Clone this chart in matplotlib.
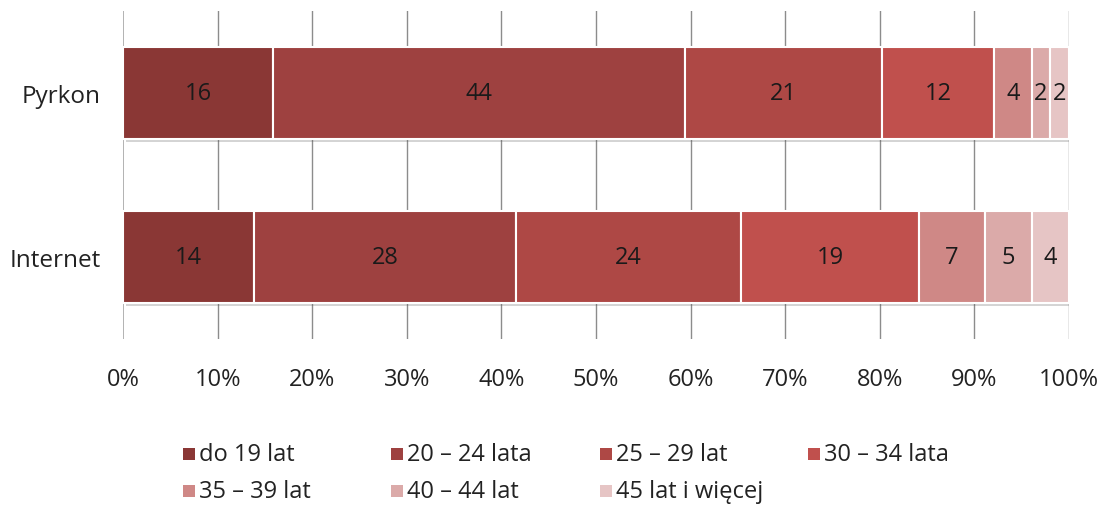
import matplotlib
matplotlib.use("Agg")
import matplotlib.pyplot as plt
import matplotlib.patheffects as pe
from matplotlib.patches import Rectangle
import numpy as np

plt.rcParams['font.family'] = ['Open Sans', 'DejaVu Sans']

categories = ["Internet", "Pyrkon"]
age_groups = ["do 19 lat", "20 – 24 lata", "25 – 29 lat", "30 – 34 lata",
              "35 – 39 lat", "40 – 44 lat", "45 lat i więcej"]
pyrkon = [16, 44, 21, 12, 4, 2, 2]
internet = [14, 28, 24, 19, 7, 5, 4]
colors = ["#8A3735", "#9E4140", "#AE4845", "#C0504D", "#CF8886", "#DBAAA9", "#E6C5C5"]
xticks = [0, 10, 20, 30, 40, 50, 60, 70, 80, 90, 100]

values = np.array([internet, pyrkon], dtype=float)
pct = values / values.sum(axis=1, keepdims=True) * 100

fig = plt.figure(figsize=(11, 5.06), dpi=100)
ax = fig.add_axes([0.1118, 0.328, 0.86, 0.648])

y = np.arange(len(categories))
left = np.zeros(len(categories))
shadow = [pe.SimplePatchShadow(offset=(2, -2), alpha=0.25, shadow_rgbFace='#555555'), pe.Normal()]
for j, lab in enumerate(age_groups):
    bars = ax.barh(y, pct[:, j], left=left, height=0.56, color=colors[j],
                   edgecolor='white', linewidth=1.5, zorder=3)
    for b in bars:
        b.set_path_effects(shadow)
    for i in range(len(categories)):
        ax.text(left[i] + pct[i, j] / 2, y[i], f"{int(values[i, j])}",
                ha='center', va='center', fontsize=17, color='#1a1a1a', zorder=5)
    left += pct[:, j]

ax.set_xlim(0, 100)
ax.set_ylim(-0.5, 1.5)
ax.set_xticks(xticks)
ax.set_xticklabels([f"{t}%" for t in xticks], fontsize=17, color='#222222')
ax.set_yticks(y)
ax.set_yticklabels(categories, fontsize=17.5, color='#222222')
ax.tick_params(axis='x', length=0, pad=20)
ax.tick_params(axis='y', length=0, pad=16)
for t in xticks:
    ax.axvline(t, color='#8c8c8c' if t else '#a6a6a6', lw=1.2 if t == 0 else 1.0, zorder=1)
for s in ax.spines.values():
    s.set_visible(False)

# legend
x0 = 0.166
dx = 0.1895
row_y = [1 - 455 / 506, 1 - 492 / 506]
sq_w = 12 / 1100
sq_h = 12 / 506
for k, lab in enumerate(age_groups):
    col, row = k % 4, k // 4
    xx = x0 + col * dx
    yy = row_y[row]
    fig.patches.append(Rectangle((xx, yy - sq_h / 2), sq_w, sq_h, transform=fig.transFigure,
                                 facecolor=colors[k], edgecolor='none'))
    fig.text(xx + sq_w + 0.004, yy, lab, ha='left', va='center', fontsize=17, color='#222222')

fig.savefig("out.png", dpi=100)
